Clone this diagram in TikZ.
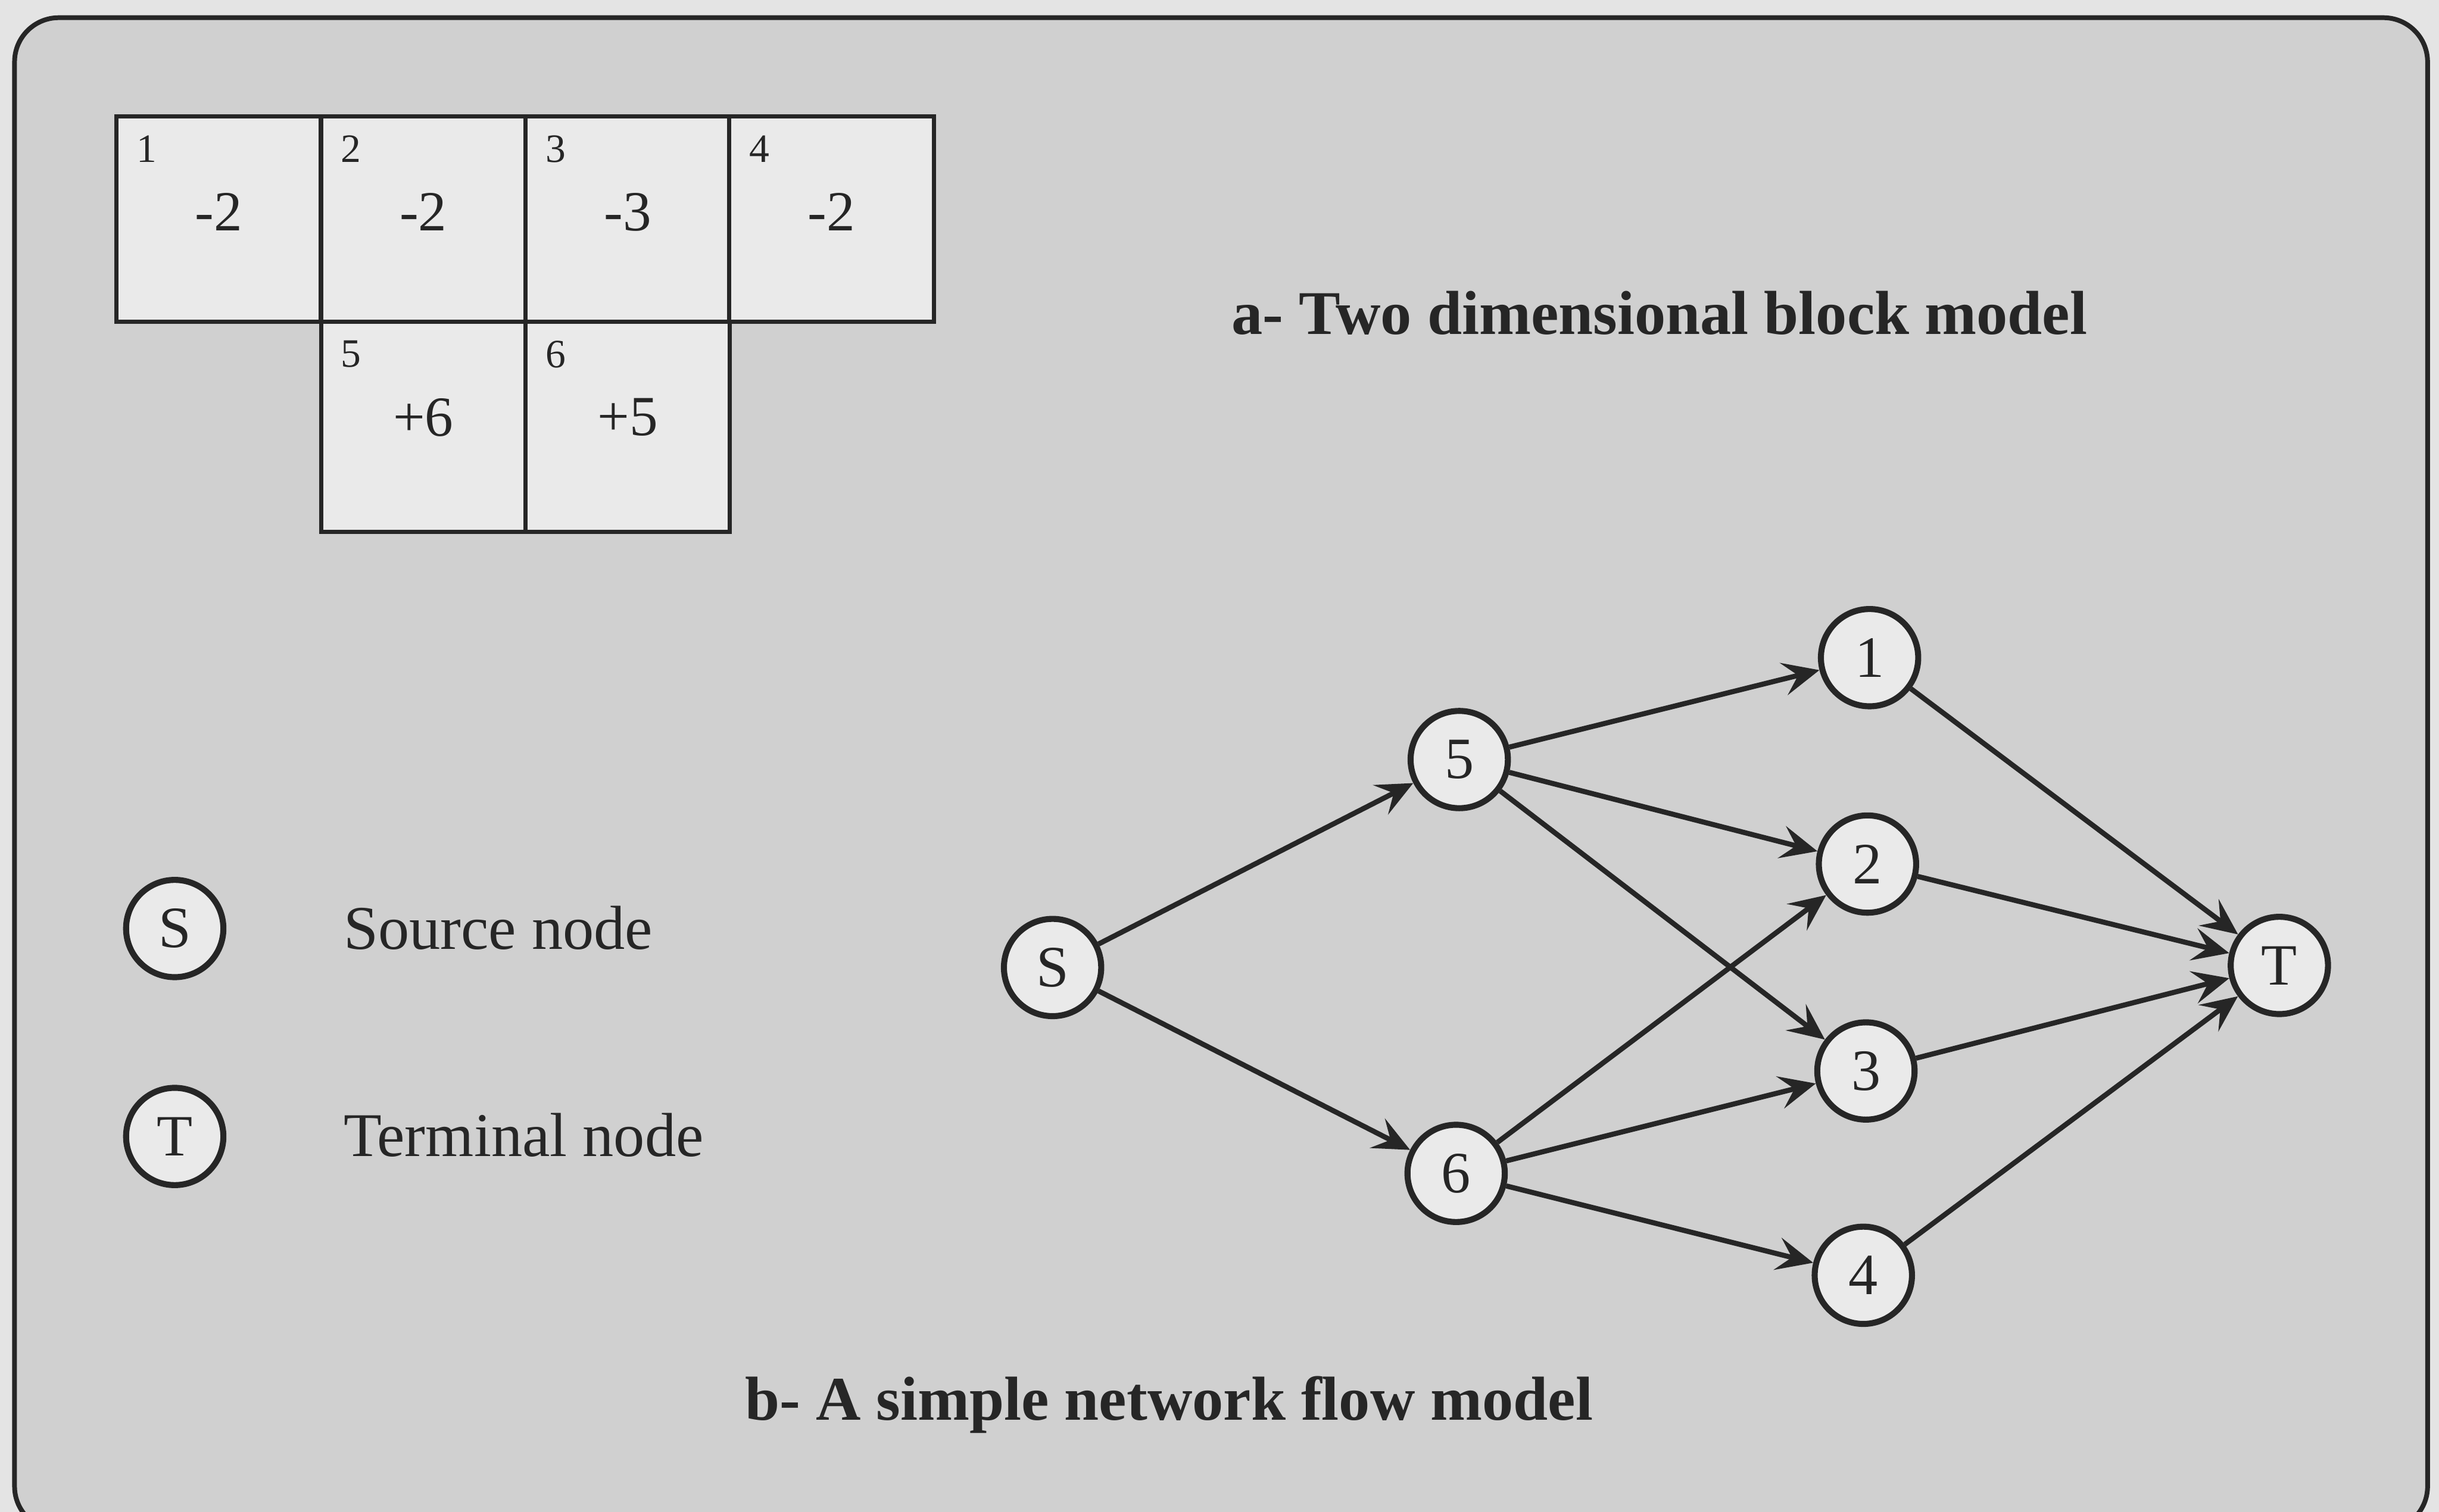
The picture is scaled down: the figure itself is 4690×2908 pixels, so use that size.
\documentclass[tikz,border=0pt]{standalone}
\usepackage{fontspec}
\setmainfont{Liberation Serif}
\usetikzlibrary{arrows.meta}

\definecolor{paper}{RGB}{228,228,228}
\definecolor{panel}{RGB}{208,208,208}
\definecolor{boxfill}{RGB}{234,234,234}
\definecolor{ink}{RGB}{38,38,38}

\tikzset{
  frame/.style={draw=ink, line width=2.6pt, fill=panel, rounded corners=0.85cm},
  cell/.style={draw=ink, line width=2.3pt, fill=boxfill, inner sep=0pt,
               minimum width=3.93cm},
  cellnum/.style={anchor=north west, inner sep=0pt, text=ink,
                  font=\fontsize{22}{24}\selectfont},
  cellval/.style={inner sep=0pt, text=ink, font=\fontsize{31}{34}\selectfont},
  vertex/.style={circle, draw=ink, line width=3.3pt, fill=boxfill, inner sep=0pt,
                 minimum size=1.87cm, text=ink, font=\fontsize{32}{34}\selectfont},
  flow/.style={draw=ink, line width=2.8pt,
               -{Stealth[length=20pt, width=18pt, inset=8pt]}},
  legendtext/.style={anchor=base west, inner sep=0pt, text=ink,
                     font=\fontsize{34}{38}\selectfont},
  caption/.style={anchor=base, inner sep=0pt, text=ink,
                  font=\fontsize{34}{38}\selectfont\bfseries}
}

\begin{document}
\begin{tikzpicture}[x=0.01cm, y=-0.01cm]
\useasboundingbox (0,0) rectangle (4690,2908);
\clip (0,0) rectangle (4690,2908);
\fill[paper] (0,0) rectangle (4690,2908);

% outer panel
\draw[frame] (28,34) rectangle (4668,2944);

% block model: top row of four blocks, two blocks below
\node[cell, minimum height=3.95cm] (c1) at (420.5,421.5) {};
\node[cell, minimum height=3.95cm] (c2) at (814,421.5) {};
\node[cell, minimum height=3.95cm] (c3) at (1207,421.5) {};
\node[cell, minimum height=3.95cm] (c4) at (1599,421.5) {};
\node[cell, minimum height=4.04cm] (c5) at (814,821) {};
\node[cell, minimum height=4.04cm] (c6) at (1207,821) {};

\foreach \i/\v in {1/-2, 2/-2, 3/-3, 4/-2, 5/+6, 6/+5}{
  \node[cellnum] (n\i) at ([shift={(42,40)}]c\i.north west) {\i};
  \node[cellval] (v\i) at ([shift={(0,188)}]c\i.north) {\v};
}

\node[caption] (capa) at (3191,643) {a- Two dimensional block model};

% legend
\node[vertex] (legS) at (336,1786) {S};
\node[vertex] (legT) at (336,2186) {T};
\node[legendtext] (legSt) at (660,1826) {Source node};
\node[legendtext] (legTt) at (660,2224) {Terminal node};

% network flow model
\node[vertex] (S) at (2024,1861) {S};
\node[vertex] (k5) at (2806,1461) {5};
\node[vertex] (k6) at (2800,2257) {6};
\node[vertex] (k1) at (3595,1265) {1};
\node[vertex] (k2) at (3591,1662) {2};
\node[vertex] (k3) at (3588,2060) {3};
\node[vertex] (k4) at (3583,2453) {4};
\node[vertex] (T) at (4383,1857) {T};

\draw[flow] (S) -- (k5);
\draw[flow] (S) -- (k6);
\draw[flow] (k5) -- (k1);
\draw[flow] (k5) -- (k2);
\draw[flow] (k5) -- (k3);
\draw[flow] (k6) -- (k2);
\draw[flow] (k6) -- (k3);
\draw[flow] (k6) -- (k4);
\draw[flow] (k1) -- (T);
\draw[flow] (k2) -- (T);
\draw[flow] (k3) -- (T);
\draw[flow] (k4) -- (T);

\node[caption] (capb) at (2248,2731) {b- A simple network flow model};
\end{tikzpicture}
\end{document}
